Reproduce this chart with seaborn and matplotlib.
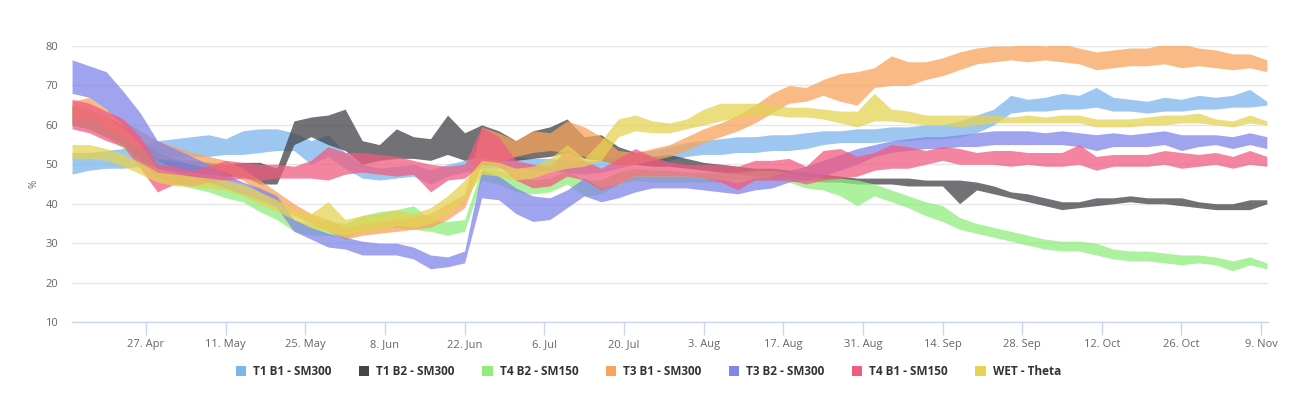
"""Soil moisture range bands per sensor, Apr - Nov"""
import matplotlib
matplotlib.use('Agg')
import matplotlib.pyplot as plt
import matplotlib.dates as mdates
from matplotlib.patches import Patch
import numpy as np
import pandas as pd
import seaborn as sns

# one reading every 3 days, 14 Apr .. 10 Nov
dates = pd.date_range('2020-04-14', periods=71, freq='3D')

series_names = ['T1 B1 - SM300', 'T1 B2 - SM300', 'T4 B2 - SM150', 'T3 B1 - SM300',
                'T3 B2 - SM300', 'T4 B1 - SM150', 'WET - Theta']
series_colors = ['#7cb5ec', '#434348', '#90ed7d', '#f7a35c', '#8085e9', '#f15c80', '#e4d354']

t1b1_low = [47.5, 48.5, 49, 49, 49.5, 52, 52, 52, 52, 52.5, 52.5, 53, 53.5, 53.5, 50, 52, 49, 46.5, 46, 46.5,
            47, 45, 47, 48, 49, 49, 49, 48.5, 48.5, 48, 47.5, 48, 49, 50, 50.5, 51, 52, 52.5, 52.5, 53,
            53, 53.5, 53.5, 54, 55, 55.5, 55.5, 55.5, 56, 56, 56.5, 56.5, 57, 58, 60, 63, 63.5, 63.5, 64, 64,
            64.5, 63.5, 63.5, 63, 63.5, 63.5, 64, 64, 64.5, 64.5, 65]
t1b1_high = [53, 53, 53.5, 54, 54.5, 56, 56.5, 57, 57.5, 56.5, 58.5, 59, 59, 58, 56, 57.5, 53, 50, 49, 49.5,
             50, 48.5, 50, 51, 52, 52, 52, 51.5, 51.5, 51, 51, 51, 52, 53, 53.5, 54.5, 55.5, 56, 56.5, 57,
             57, 57.5, 57.5, 58, 58.5, 58.5, 59, 59, 59.5, 59.5, 60, 60, 61, 62.5, 64, 67.5, 66.5, 67, 68, 67.5,
             69.5, 67, 66.5, 66, 67, 66.5, 67.5, 67, 67.5, 69, 66]

t1b2_low = [60, 59, 57, 55, 51, 49, 48.5, 48, 47.5, 47, 47, 45, 45, 55, 57, 55, 53.5, 50, 51, 51.5,
            51.5, 51, 52.5, 51, 52, 51, 51, 51.5, 52, 53, 51.5, 51, 50, 50, 49.5, 49.5, 49, 48.5, 48, 47.5,
            47, 47, 46.5, 46, 45.5, 45.5, 45, 45, 45, 44.5, 44.5, 44.5, 40, 43.5, 42.5, 41.5, 40.5, 39.5, 38.5, 39,
            39.5, 40, 40.5, 40, 40, 39.5, 39, 38.5, 38.5, 38.5, 40]
t1b2_high = [65, 64, 62, 60, 56, 53, 51.5, 51, 50.5, 50, 50.5, 50.5, 49, 61, 62, 62.5, 64, 56, 55, 59,
             57, 56.5, 62.5, 58, 60, 58.5, 56, 58.5, 59.5, 61.5, 57, 57.5, 54.5, 53, 52, 52.5, 51.5, 50.5, 50, 49.5,
             49, 49, 48.5, 48, 47.5, 47, 46.5, 46.5, 46.5, 46.5, 46, 46, 46, 45.5, 44.5, 43, 42.5, 41.5, 40.5, 40.5,
             41.5, 41.5, 42, 41.5, 41.5, 41.5, 40.5, 40, 40, 41, 41]

t4b2_low = [60, 59, 57, 54, 50, 47, 45, 44, 43, 41.5, 40.5, 38, 36, 33, 32, 32, 31.5, 33, 34, 34,
            33.5, 33, 32, 33, 46, 45, 43, 42.5, 43, 45, 42, 42.5, 45, 46, 45.5, 45.5, 45.5, 45.5, 45.5, 46,
            46, 46, 45.5, 44, 43.5, 42, 39.5, 42, 40.5, 39, 37, 35.5, 33.5, 32.5, 31.5, 30.5, 29.5, 28.5, 28, 28,
            27, 26, 25.5, 25.5, 25, 24.5, 25, 24.5, 23, 24.5, 23.5]
t4b2_high = [65, 64, 62, 59, 55, 51, 49, 47.5, 46.5, 44.5, 43, 41, 39, 36, 35, 35.5, 35, 37, 38, 38.5,
             39.5, 36, 35.5, 36, 49, 48.5, 47, 46, 46.5, 48.5, 46, 46, 48, 49, 48.5, 48.5, 48, 48, 48, 48,
             48.5, 48.5, 48, 47, 46.5, 46.5, 46, 45, 43.5, 42, 40.5, 39.5, 36.5, 35, 34, 33, 32, 31, 30.5, 30.5,
             30, 28.5, 28, 28, 27.5, 27, 27, 26.5, 25.5, 26.5, 25]

t3b1_low = [61, 62, 59, 57, 54, 51.5, 51, 50, 49, 48, 46, 43, 40, 37, 35, 33, 31, 32, 32.5, 33,
            33.5, 34, 36, 39, 50, 50.5, 52, 53, 53.5, 53, 52, 51, 50, 50, 51, 52, 53.5, 55.5, 57, 58.5,
            60.5, 63, 65.5, 66, 67.5, 66, 65, 69.5, 70, 70, 71.5, 72.5, 74, 75.5, 76, 76.5, 76, 76.5, 76, 75.5,
            74, 74.5, 75, 75, 75.5, 74.5, 75, 74.5, 74, 74.5, 73.5]
t3b1_high = [66, 67, 64, 61, 58.5, 56, 54.5, 53, 52, 51, 49, 46, 43, 40, 37.5, 36, 34, 35, 35.5, 36,
             36.5, 37.5, 40, 42.5, 59.5, 58, 56, 58.5, 58, 61, 59.5, 57, 53.5, 53, 54, 55, 57, 59, 60.5, 62.5,
             65, 68, 70, 69.5, 71.5, 73, 73.5, 74.5, 77.5, 76, 76, 77, 78.5, 79.5, 80, 80, 80.5, 80, 80.5, 79.5,
             78.5, 79, 79.5, 79.5, 80.5, 80.5, 79.5, 79, 78, 78, 76.5]

t3b2_low = [68, 67, 64, 60, 55, 49, 48, 47, 45.5, 44, 42.5, 41, 39, 33, 31, 29, 28.5, 27, 27, 27,
            26, 23.5, 24, 25, 41.5, 41, 37.5, 35.5, 36, 39, 42, 40.5, 41.5, 43, 44, 44, 44, 43.5, 43, 42.5,
            43.5, 44, 45.5, 46, 47, 48.5, 50, 52, 53, 53.5, 54, 54, 54.5, 54.5, 55, 55, 55, 55, 55, 54.5,
            53.5, 54.5, 54.5, 54.5, 55, 53.5, 54.5, 55, 54, 55, 54]
t3b2_high = [76.5, 75, 73.5, 68.5, 63, 56, 54, 52, 50, 47.5, 45.5, 44, 42, 36, 34, 32.5, 31.5, 30.5, 30, 30,
             29, 27, 26.5, 28, 48.5, 47, 44, 42, 41.5, 43.5, 46.5, 44, 45, 47, 47, 47, 47, 46.5, 46, 45.5,
             46.5, 47, 48.5, 49.5, 51, 52.5, 54, 55, 56, 56.5, 57, 57, 57.5, 58, 58.5, 58.5, 58.5, 58, 58.5, 58,
             57.5, 58, 57.5, 58, 58.5, 57.5, 57.5, 57.5, 57, 58, 57]

t4b1_low = [59, 58, 56, 54.5, 49, 43, 45, 44.5, 45.5, 46, 46.5, 46, 46.5, 46.5, 46.5, 46, 47.5, 48, 47.5, 47,
            47.5, 43, 46, 46.5, 50, 49.5, 46, 44, 44.5, 47, 46, 43.5, 45, 47, 47, 47, 47, 46.5, 45.5, 43.5,
            46, 46, 46, 45, 46, 46.5, 47, 48.5, 49, 49, 50, 51, 50, 50, 50, 49.5, 50, 49.5, 49.5, 50,
            48.5, 49.5, 49.5, 49.5, 50, 49, 49.5, 50, 49, 50, 49.5]
t4b1_high = [66.5, 65.5, 63.5, 61.5, 57, 50, 49.5, 48.5, 49.5, 51, 50.5, 50, 50, 49.5, 51, 54.5, 53, 53, 52.5, 52,
             51, 50, 49.5, 50, 59.5, 57, 51, 50, 49.5, 54, 51, 49, 51.5, 54, 52, 50.5, 50, 50, 50, 49.5,
             51, 51, 51.5, 49.5, 53.5, 54, 52, 53, 55, 54.5, 53.5, 54.5, 54, 53, 53.5, 53.5, 53, 53, 53, 55,
             52, 52.5, 52.5, 52.5, 53.5, 53, 52.5, 53, 52, 53.5, 52]

wet_low = [51.5, 51.5, 51, 49.5, 47.5, 45.5, 44.5, 44.5, 44, 43.5, 42, 40, 38, 36, 34, 33, 32, 33, 33.5, 34.5,
           34, 35, 37.5, 41, 47.5, 47, 46, 46.5, 48, 49, 49.5, 51, 57, 58.5, 58, 58, 59, 60, 61, 62,
           62.5, 62.5, 62, 62, 61.5, 60.5, 59.5, 61, 61, 60.5, 60, 60, 59.5, 60, 60.5, 60.5, 60.5, 60.5, 60.5, 60.5,
           59.5, 59.5, 59.5, 60, 60, 60.5, 60.5, 60, 59.5, 60.5, 60]
wet_high = [55, 55, 54, 52.5, 50.5, 48, 47.5, 47, 46.5, 46, 45, 43, 41, 38.5, 37.5, 40.5, 36, 37, 37.5, 38.5,
            37.5, 39, 42, 46, 51, 50.5, 49, 49.5, 51.5, 55, 51.5, 56, 61.5, 62.5, 61, 60.5, 61.5, 64, 65.5, 65.5,
            65.5, 65, 64.5, 64.5, 64, 63.5, 63.5, 68, 64, 63.5, 62.5, 62.5, 62.5, 62.5, 62.5, 62, 62.5, 62, 62.5, 62.5,
            61.5, 61.5, 61.5, 62, 62.5, 62.5, 63, 61.5, 61, 62.5, 61]

lows = [t1b1_low, t1b2_low, t4b2_low, t3b1_low, t3b2_low, t4b1_low, wet_low]
highs = [t1b1_high, t1b2_high, t4b2_high, t3b1_high, t3b2_high, t4b1_high, wet_high]

sns.set_theme(style='white')
plt.rcParams['font.family'] = ['Open Sans', 'DejaVu Sans']

fig = plt.figure(figsize=(12.89, 3.97), dpi=100)
ax = fig.add_axes([0.0559, 0.189, 0.928, 0.695])

# later series are drawn on top, as in the original
for name, color, lo, hi in zip(series_names, series_colors, lows, highs):
    ax.fill_between(dates, lo, hi, color=color, alpha=0.75, linewidth=0, label=name)

ax.set_ylim(10, 80)
ax.set_yticks(range(10, 81, 10))
ax.set_xlim(pd.Timestamp('2020-04-14'), pd.Timestamp('2020-11-10 06:00'))
ax.set_xticks(pd.date_range('2020-04-27', '2020-11-09', freq='14D'))
ax.xaxis.set_major_formatter(mdates.DateFormatter('%-d. %b'))

ax.grid(axis='y', color='#e6e6e6', linewidth=1)
ax.grid(axis='x', visible=False)
sns.despine(ax=ax, left=True, top=True, right=True)
ax.spines['bottom'].set_color('#ccd6eb')
ax.spines['bottom'].set_linewidth(1)
ax.tick_params(axis='x', colors='#ccd6eb', length=9, width=1, direction='out', pad=3, bottom=True,
               labelcolor='#666666', labelsize=8)
ax.tick_params(axis='y', length=0, labelcolor='#666666', labelsize=8, pad=10)
ax.set_ylabel('%', color='#666666', fontsize=7, labelpad=4)

handles = [Patch(facecolor=c, edgecolor='none') for c in series_colors]
leg = fig.legend(handles, series_names, loc='center', bbox_to_anchor=(0.503, 0.065), ncol=7,
                 frameon=False, handlelength=0.9, handleheight=0.9, handletextpad=0.6, columnspacing=2.3,
                 prop={'size': 8.5, 'weight': 'bold'})
for t in leg.get_texts():
    t.set_color('#333333')

fig.savefig('out.png', dpi=100, facecolor='white')
